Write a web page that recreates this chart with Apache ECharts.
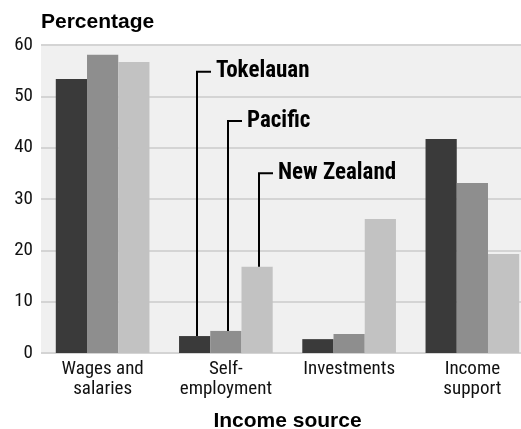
<!DOCTYPE html>
<html>
<head>
<meta charset="utf-8">
<script src="https://cdn.jsdelivr.net/npm/echarts@6/dist/echarts.min.js"></script>
<style>
html,body{margin:0;padding:0;background:#fff;}
#chart{width:521px;height:429px;}
</style>
</head>
<body>
<div id="chart"></div>
<script>
// ---- data ----
var categories = ['Wages and\nsalaries', 'Self-\nemployment', 'Investments', 'Income\nsupport'];
var seriesNames = ['Tokelauan', 'Pacific', 'New Zealand'];
var tokelauan = [53.4, 3.3, 2.7, 41.7];
var pacific = [58.1, 4.3, 3.7, 33.1];
var newZealand = [56.7, 16.8, 26.1, 19.3];
var yMin = 0, yMax = 60, yInterval = 10;
// annotation leader lines: category index and elbow value per series
var annotCategory = 1;
var annotElbow = [54.8, 45.2, 35.0];

var colors = ['#3a3a3a', '#8e8e8e', '#c2c2c2'];
var values = [tokelauan, pacific, newZealand];
var barCategoryGap = 0.24;

var annotData = seriesNames.map(function (name, i) {
  return [annotCategory, i, values[i][annotCategory], annotElbow[i]];
});

var chart = echarts.init(document.getElementById('chart'));
var narrow = '"Roboto Condensed", "Liberation Sans Narrow", sans-serif';
var sans = '"Liberation Sans", Arial, sans-serif';

var series = seriesNames.map(function (name, i) {
  return {
    name: name,
    type: 'bar',
    data: values[i],
    barGap: '0%',
    barCategoryGap: (barCategoryGap * 100) + '%',
    itemStyle: { color: colors[i] },
    emphasis: { disabled: true },
    silent: true
  };
});

series.push({
  type: 'custom',
  silent: true,
  data: annotData,
  z: 10,
  clip: false,
  renderItem: function (params, api) {
    var cat = api.value(0);
    var idx = api.value(1);
    var cw = api.size([1, 0])[0];
    var bw = cw * (1 - barCategoryGap) / 3;
    var base = api.coord([cat, api.value(2)]);
    var elbow = api.coord([cat, api.value(3)]);
    var x = Math.round(base[0] + (idx - 1) * bw + 2);
    var x2 = x + 14;
    return {
      type: 'group',
      children: [
        {
          type: 'polyline',
          shape: { points: [[x, base[1]], [x, elbow[1]], [x2, elbow[1]]] },
          style: { stroke: '#000', lineWidth: 2, fill: null }
        },
        {
          type: 'text',
          x: x2 + 5,
          y: elbow[1],
          style: {
            text: seriesNames[idx],
            fill: '#000',
            font: 'bold 23px ' + narrow,
            verticalAlign: 'middle',
            align: 'left'
          }
        }
      ]
    };
  }
});

chart.setOption({
  animation: false,
  title: {
    text: 'Percentage',
    left: 41,
    top: 12,
    padding: 0,
    textStyle: { fontFamily: sans, fontWeight: 'bold', fontSize: 21, color: '#000' }
  },
  grid: {
    left: 41, top: 45, width: 493, bottom: 76,
    show: true, backgroundColor: '#f0f0f0', borderWidth: 0,
    containLabel: false,
    outerBoundsMode: 'none'
  },
  xAxis: {
    type: 'category',
    data: categories,
    axisLine: { show: false },
    axisTick: { show: false },
    axisLabel: {
      interval: 0, margin: 6,
      fontFamily: narrow, fontSize: 19, lineHeight: 20, color: '#111'
    },
    name: 'Income source',
    nameLocation: 'middle',
    nameGap: 58,
    nameTextStyle: { fontFamily: sans, fontWeight: 'bold', fontSize: 21, color: '#000' }
  },
  yAxis: {
    type: 'value',
    min: yMin, max: yMax, interval: yInterval,
    axisLine: { show: false },
    axisTick: { show: false },
    axisLabel: { margin: 8, fontFamily: narrow, fontSize: 19, color: '#111' },
    splitLine: { lineStyle: { color: '#d4d4d4', width: 2 } }
  },
  series: series
});
</script>
</body>
</html>
